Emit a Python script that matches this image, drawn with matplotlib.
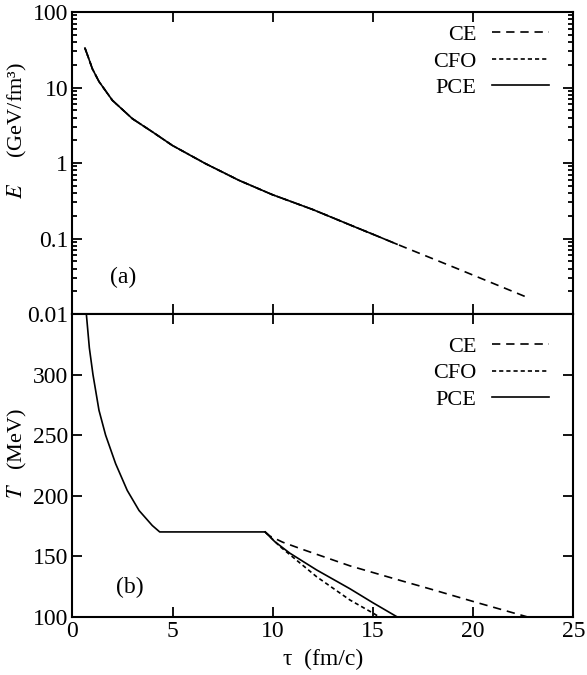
import matplotlib
matplotlib.use("Agg")
import matplotlib.pyplot as plt
import numpy as np

plt.rcParams['font.family'] = ['Liberation Serif', 'DejaVu Serif']
plt.rcParams['mathtext.fontset'] = 'stix'
plt.rcParams['font.size'] = 16

# energy density vs proper time (the three scenarios coincide until each stops)
tau_e = [0.63, 0.8, 1.0, 1.33, 2.0, 3.0, 4.0, 4.99, 6.65, 8.32, 9.98,
         11.98, 13.0, 14.0, 15.1, 16.2, 19.2, 22.7]
e_vals = [33.3, 25.0, 17.7, 12.0, 6.76, 3.86, 2.58, 1.71, 0.98, 0.589, 0.381,
          0.243, 0.188, 0.146, 0.111, 0.084, 0.040, 0.0166]
tau_end = {'CE': 22.7, 'CFO': 15.3, 'PCE': 16.2}

# temperature: common early evolution + mixed phase plateau
tau_t = [0.63, 0.70, 0.85, 1.03, 1.33, 1.66, 2.16, 2.74, 3.33, 3.99, 4.36, 9.62]
t_vals = [365, 350, 322, 300, 270.5, 250, 226.4, 204.3, 187.7, 175.3, 170, 170]

# branches after the mixed phase
tau_ce = [9.62, 9.87, 10.5, 11.5, 13.85, 16.35, 17.84, 20.18, 22.67]
t_ce = [170, 166.5, 161.5, 155.5, 142, 130, 123, 111.7, 100]
tau_cfo = [9.62, 10.36, 12.19, 13.85, 15.02, 15.3]
t_cfo = [170, 158, 133, 113.8, 102.8, 100]
tau_pce = [9.62, 10.1, 10.85, 12.19, 13.86, 15.0, 16.19]
t_pce = [170, 162, 152.5, 138.6, 123.0, 111.5, 100]

styles = {'CE': (0, (5, 3.5)), 'CFO': (0, (2.5, 1.8)), 'PCE': '-'}
lw = 1.2

fig = plt.figure(figsize=(5.87, 6.75), dpi=100)
ax1 = fig.add_axes([0.1232, 0.5348, 0.8535, 0.4474])
ax2 = fig.add_axes([0.1232, 0.0864, 0.8535, 0.4484])

tau_e = np.array(tau_e)
e_vals = np.array(e_vals)
for name in ['CE', 'CFO', 'PCE']:
    m = tau_e <= tau_end[name] + 1e-9
    ax1.plot(tau_e[m], e_vals[m], color='black', lw=lw, ls=styles[name], label=name)

ax2.plot(tau_t, t_vals, color='black', lw=lw)
ax2.plot(tau_ce, t_ce, color='black', lw=lw, ls=styles['CE'], label='CE')
ax2.plot(tau_cfo, t_cfo, color='black', lw=lw, ls=styles['CFO'], label='CFO')
ax2.plot(tau_pce, t_pce, color='black', lw=lw, ls=styles['PCE'], label='PCE')

ax1.set_yscale('log')
ax1.set_ylim(0.01, 100)
ax1.set_yticks([0.01, 0.1, 1, 10, 100])
ax1.set_yticklabels(['0.01', '0.1', '1', '10', '100'])
ax2.set_ylim(100, 350)
ax2.set_yticks([100, 150, 200, 250, 300])

for ax, top in ((ax1, 0.958), (ax2, 0.926)):
    ax.set_xlim(0, 25)
    ax.set_xticks([0, 5, 10, 15, 20, 25])
    ax.tick_params(which='both', direction='in', top=True, right=True,
                   labelsize=17, width=1.3, pad=3)
    ax.tick_params(which='major', length=7)
    ax.tick_params(which='minor', length=3.5)
    for s in ax.spines.values():
        s.set_linewidth(1.5)
    ax.legend(loc='upper right', frameon=False, markerfirst=False, fontsize=16,
              handlelength=2.59, handletextpad=0.68, labelspacing=0.26,
              borderpad=0, borderaxespad=0, bbox_to_anchor=(0.952, top))

ax1.tick_params(labelbottom=False)
ax2.minorticks_off()

ax1.set_ylabel(r'$E$     (GeV/fm³)', fontsize=16)
ax1.yaxis.set_label_coords(-0.086, 0.609)
ax2.set_ylabel(r'$T$   (MeV)', fontsize=16)
ax2.yaxis.set_label_coords(-0.086, 0.539)
ax2.set_xlabel('τ  (fm/c)', fontsize=17, labelpad=5)

ax1.text(0.101, 0.122, '(a)', transform=ax1.transAxes, fontsize=17,
         ha='center', va='center')
ax2.text(0.115, 0.095, '(b)', transform=ax2.transAxes, fontsize=17,
         ha='center', va='center')

fig.savefig('out.png', dpi=100)
